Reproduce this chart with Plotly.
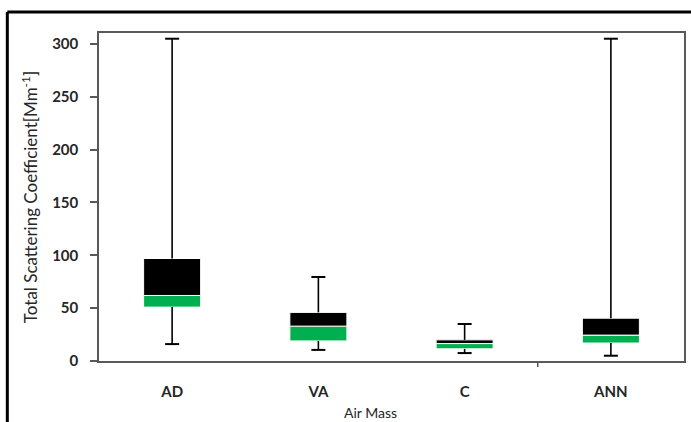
import plotly.graph_objects as go

categories = ["AD", "VA", "C", "ANN"]
q_min = [16, 10.5, 7.5, 5]
q1 = [51, 19, 11.5, 17]
median = [62, 33, 16.5, 24.5]
q3 = [97, 46, 20, 40.5]
q_max = [305, 79.5, 35, 305]

FONT = "Lato"
W, H = 691, 422
L, R, T, B = 99, 5, 33, 61
pw = W - L - R
ph = H - T - B

def px(x):
    return (x - L) / pw

def py(y):
    return (H - B - y) / ph

fig = go.Figure()

# whisker stems (built from the data)
wx, wy = [], []
for c, lo, a, b, hi in zip(categories, q_min, q1, q3, q_max):
    wx += [c, c, None, c, c, None]
    wy += [b, hi, None, lo, a, None]
fig.add_trace(go.Scatter(
    x=wx, y=wy, mode="lines", line=dict(color="black", width=1.6),
    showlegend=False, hoverinfo="skip"))
# whisker caps
fig.add_trace(go.Scatter(
    x=categories + categories, y=q_max + q_min, mode="markers",
    marker=dict(symbol="line-ew", size=10, line=dict(color="black", width=2)),
    showlegend=False, hoverinfo="skip"))

# lower box (Q1 -> median), green
fig.add_trace(go.Bar(
    x=categories, y=[m - a for m, a in zip(median, q1)], base=q1,
    width=0.39, marker=dict(color="#00B050", line=dict(color="white", width=1)),
    showlegend=False))
# upper box (median -> Q3), black
fig.add_trace(go.Bar(
    x=categories, y=[c - m for c, m in zip(q3, median)], base=median,
    width=0.39, marker=dict(color="#000000", line=dict(color="white", width=1)),
    showlegend=False))

fig.update_layout(
    width=W, height=H,
    margin=dict(l=L, r=R, t=T, b=B),
    paper_bgcolor="white", plot_bgcolor="white",
    barmode="overlay",
    font=dict(family=FONT, color="#262626"),
    xaxis=dict(
        showline=True, linecolor="#595959", linewidth=1.5, mirror=True,
        showgrid=False, ticks="", tickfont=dict(size=15, family=FONT, weight="bold"),
        ticklabelstandoff=16,
    ),
    yaxis=dict(
        range=[0, 310.4], tickmode="linear", tick0=0, dtick=50,
        showline=True, linecolor="#595959", linewidth=1.5, mirror=True,
        showgrid=False, ticks="outside", ticklen=7, tickcolor="#595959", tickwidth=1.5,
        tickfont=dict(size=15, family=FONT, weight="bold"),
        ticklabelstandoff=9,
        title=dict(text="Total Scattering Coefficient[Mm<sup>-1</sup>]",
                   font=dict(size=17, family=FONT, color="#262626"), standoff=10),
        zeroline=False,
    ),
    shapes=[
        # outer chart frame (top and left visible)
        dict(type="line", xref="paper", yref="paper",
             x0=px(7), x1=px(700), y0=py(12), y1=py(12),
             line=dict(color="black", width=3)),
        dict(type="line", xref="paper", yref="paper",
             x0=px(7), x1=px(7), y0=py(12), y1=py(430),
             line=dict(color="black", width=3)),
        # category separator tick
        dict(type="line", xref="paper", yref="paper",
             x0=0.75, x1=0.75, y0=0, y1=py(H - B + 6),
             line=dict(color="#595959", width=1.5)),
    ],
    annotations=[
        dict(text="Air Mass", xref="paper", yref="paper",
             x=px(371), y=py(412), xanchor="center", yanchor="middle",
             showarrow=False, font=dict(size=14, family=FONT, color="#262626")),
    ],
)

fig.write_html("out.html", config={"displayModeBar": False},
               post_script="document.body.style.margin='0';document.body.style.overflow='hidden';")
